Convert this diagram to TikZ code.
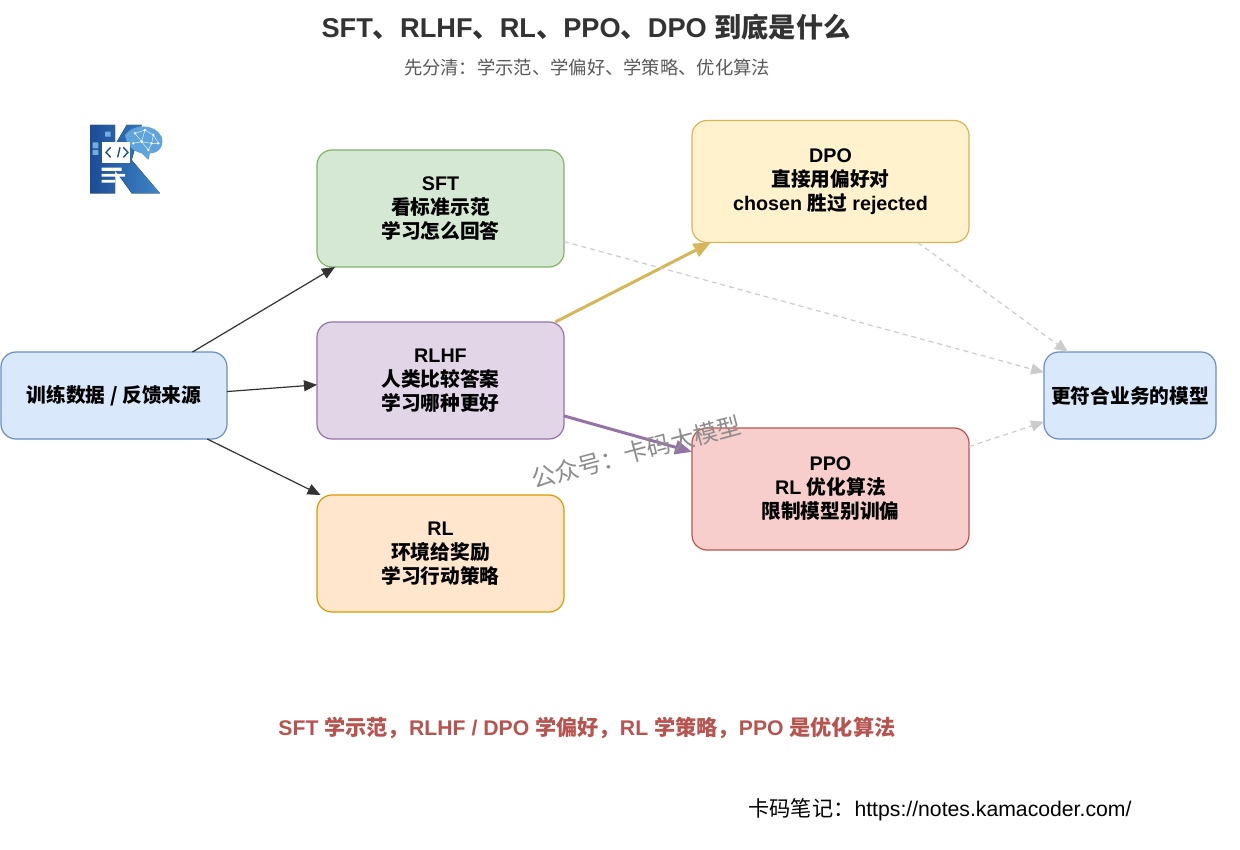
\documentclass[tikz,border=0pt]{standalone}
\usepackage{fontspec}
\setmainfont{Liberation Sans}
\newfontfamily\cjk{Noto Sans CJK SC}
\newcommand{\zh}[1]{{\cjk #1}}
\usetikzlibrary{arrows.meta}
\definecolor{bluefill}{HTML}{DAE8FC}
\definecolor{blueline}{HTML}{6C8EBF}
\definecolor{greenfill}{HTML}{D5E8D4}
\definecolor{greenline}{HTML}{82B366}
\definecolor{purplefill}{HTML}{E1D5E7}
\definecolor{purpleline}{HTML}{9673A6}
\definecolor{orangefill}{HTML}{FFE6CC}
\definecolor{orangeline}{HTML}{D79B00}
\definecolor{yellowfill}{HTML}{FFF2CC}
\definecolor{yellowline}{HTML}{D6B656}
\definecolor{redfill}{HTML}{F8CECC}
\definecolor{redline}{HTML}{B85450}
\definecolor{logodark}{HTML}{1C4C96}
\definecolor{logolight}{HTML}{3F86C8}
\definecolor{logobrain}{HTML}{5FA4DC}
\definecolor{logotile}{HTML}{6FB0DC}
\begin{document}
\begin{tikzpicture}[x=1pt,y=-1pt]
	\tikzset{flowbox/.style 2 args = {shape=rectangle,draw=#2,fill=#1,line width=1.2pt,rounded corners=15pt,
		inner sep=0pt,outer sep=0pt,align=center,text=black,font=\fontsize{19.7}{24}\selectfont\bfseries}}
	\tikzset{wide/.style = {minimum width=247pt,minimum height=117pt}}
	\tikzset{wider/.style = {minimum width=277pt,minimum height=122pt}}
	\tikzset{plainedge/.style = {-{Triangle[length=13pt,width=11pt]},draw=black!80,line width=1.2pt}}
	\tikzset{softedge/.style = {-{Triangle[length=13pt,width=11pt]},draw=black!20,line width=1.2pt,dash pattern=on 5pt off 4pt}}
	\tikzset{heavyedge/.style = {-{Triangle[length=17pt,width=14pt]},line width=3pt}}
	\useasboundingbox (0,0) rectangle (1240,850);
	\fill[white] (0,0) rectangle (1240,850);

	% headings
	\node[text=black!80,font=\fontsize{27.2}{30}\selectfont\bfseries] (title) at (586,27) {SFT\zh{、}RLHF\zh{、}RL\zh{、}PPO\zh{、}DPO \zh{到底是什么}};
	\node[text=black!65,font=\fontsize{18.3}{20}\selectfont] (subtitle) at (587,68) {\zh{先分清：学示范、学偏好、学策略、优化算法}};

	% logo
	\begin{scope}[shift={(70,110)},scale=1/3]
		\fill[left color=logodark,right color=logolight] (60,45) -- (135,45) -- (135,105) -- (170,45) -- (215,45) -- (185,150) -- (270,250) -- (185,250) -- (135,180) -- (135,250) -- (60,250) -- cycle;
		\fill[logobrain] (165,75) .. controls (190,40) and (255,40) .. (275,80) .. controls (285,115) and (260,130) .. (240,130) -- (235,150) -- (215,130) .. controls (190,125) and (170,105) .. (165,75) -- cycle;
		\draw[white,line width=.4pt] (195,70) -- (225,60) -- (250,75) -- (245,100) -- (215,95) -- (195,70) (215,95) -- (225,60) (190,100) -- (215,95) -- (235,120) -- (245,100) -- (265,100) -- (250,75);
		\foreach \px/\py in {195/70,225/60,250/75,215/95,245/100,190/100,265/100,235/120}
			\fill[white] (\px,\py) circle (4);
		\fill[logotile] (105,65) rectangle (122,80) (68,97) rectangle (85,115) (68,120) rectangle (85,135);
		\fill[white] (95,97) rectangle (180,158);
		\draw[logodark,line width=1.4pt] (122,112) -- (108,127) -- (122,142) (150,112) -- (143,142) (160,112) -- (174,127) -- (160,142);
		\fill[white] (95,173) rectangle (155,183) (95,192) rectangle (165,200) (95,210) rectangle (135,218);
	\end{scope}

	% nodes
	\node[flowbox={bluefill}{blueline},minimum width=226pt,minimum height=87pt] (source) at (114,395.5) {\zh{训练数据 / 反馈来源}};
	\node[flowbox={greenfill}{greenline},wide] (sft) at (440.5,208.5) {SFT\\\zh{看标准示范}\\\zh{学习怎么回答}};
	\node[flowbox={purplefill}{purpleline},wide] (rlhf) at (440.5,380.5) {RLHF\\\zh{人类比较答案}\\\zh{学习哪种更好}};
	\node[flowbox={orangefill}{orangeline},wide] (rl) at (440.5,553.5) {RL\\\zh{环境给奖励}\\\zh{学习行动策略}};
	\node[flowbox={yellowfill}{yellowline},wider] (dpo) at (830.5,181.5) {DPO\\\zh{直接用偏好对}\\chosen \zh{胜过} rejected};
	\node[flowbox={redfill}{redline},wider] (ppo) at (830.5,489) {PPO\\RL \zh{优化算法}\\\zh{限制模型别训偏}};
	\node[flowbox={bluefill}{blueline},minimum width=172pt,minimum height=87pt] (model) at (1130,395.5) {\zh{更符合业务的模型}};

	% connectors
	\path (source.29.8) edge[plainedge] (sft.209.7);
	\path (source.2.3) edge[plainedge] (rlhf.182.5);
	\path (source.-25.8) edge[plainedge] (rl.154.5);
	\path (rlhf.27) edge[heavyedge,draw=yellowline] (dpo.207);
	\path (rlhf.-16) edge[heavyedge,draw=purpleline] (ppo.165.4);
	\path (sft.-15.2) edge[softedge] (model.165.3);
	\path (dpo.-35.1) edge[softedge] (model.145);
	\path (ppo.17.5) edge[softedge] (model.197.1);

	% bottom texts
	\node[text=redline,font=\fontsize{21.2}{24}\selectfont\bfseries] (summary) at (587,728) {SFT \zh{学示范，}RLHF / DPO \zh{学偏好，}RL \zh{学策略，}PPO \zh{是优化算法}};
	\node[text=black,font=\fontsize{21.2}{24}\selectfont] (footer) at (940,810) {\zh{卡码笔记：}https://notes.kamacoder.com/};
	\node[text=black!45,rotate=15,font=\fontsize{24}{26}\selectfont] (mark) at (636,452) {\zh{公众号：卡码大模型}};
\end{tikzpicture}
\end{document}
